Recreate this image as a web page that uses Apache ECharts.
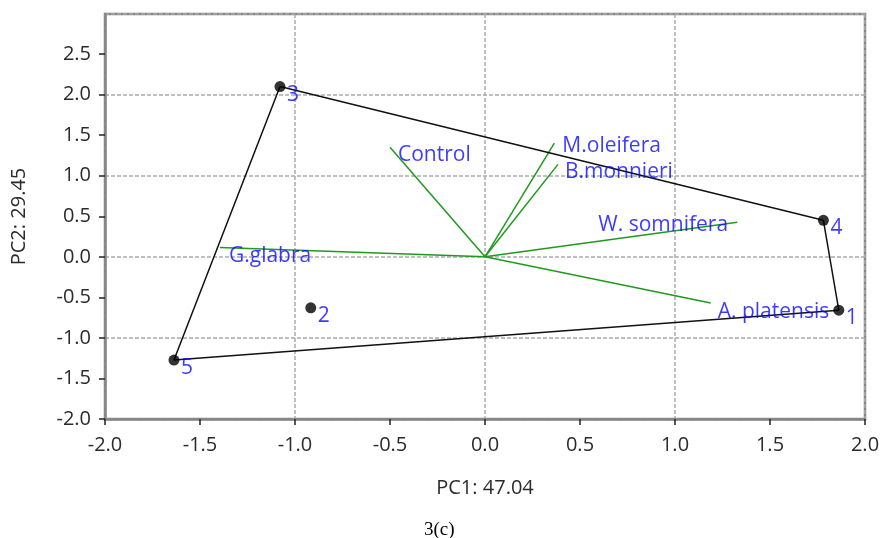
<!DOCTYPE html>
<html>
<head>
<meta charset="utf-8">
<script src="https://cdn.jsdelivr.net/npm/echarts@6/dist/echarts.min.js"></script>
<style>
  html, body { margin: 0; padding: 0; background: #ffffff; }
  #chart { width: 883px; height: 538px; }
</style>
</head>
<body>
<div id="chart"></div>
<script>
// ---- data ----
const scoreLabels = ['1', '2', '3', '4', '5'];
const scoreX = [1.862, -0.917, -1.079, 1.781, -1.637];
const scoreY = [-0.658, -0.629, 2.100, 0.451, -1.273];
const hullOrder = [2, 3, 0, 4, 2]; // 3 -> 4 -> 1 -> 5 -> 3

const loadingNames = ['Control', 'M.oleifera', 'B.monnieri', 'W. somnifera', 'A. platensis', 'G.glabra'];
const loadingX = [-0.500, 0.365, 0.384, 1.328, 1.188, -1.395];
const loadingY = [1.353, 1.403, 1.140, 0.426, -0.568, 0.115];

const xTicks = [-2.0, -1.5, -1.0, -0.5, 0.0, 0.5, 1.0, 1.5, 2.0];
const yTicks = [-2.0, -1.5, -1.0, -0.5, 0.0, 0.5, 1.0, 1.5, 2.0, 2.5];
const xTitle = 'PC1: 47.04';
const yTitle = 'PC2: 29.45';
const caption = '3(c)';

// label offsets (layout only)
const loadingLabelOffsets = [[8, 8], [8, 3], [7, 8], [-139, 3], [7, 9], [9, 9]];
const scoreLabelOffset = [7, 8];

const FONT = 'Open Sans';
const BLUE = '#0a0aff';
const GREEN = '#1f9a1f';
const TXT = '#2b2b2b';

const chart = echarts.init(document.getElementById('chart'), null, { renderer: 'canvas' });

const loadingSeries = loadingNames.map((n, i) => ({
  type: 'line',
  xAxisIndex: 0, yAxisIndex: 0,
  data: [[0, 0], [loadingX[i], loadingY[i]]],
  showSymbol: false,
  symbol: 'none',
  lineStyle: { color: GREEN, width: 1.5 },
  silent: true,
  z: 3
}));

const option = {
  animation: false,
  backgroundColor: '#ffffff',
  grid: {
    left: 105, right: 18, top: 14, bottom: 119,
    show: true, borderColor: '#858585', borderWidth: 2.5, backgroundColor: 'transparent'
  },
  xAxis: [
    {
      type: 'value', min: xTicks[0], max: xTicks[xTicks.length - 1], interval: 0.5,
      axisLine: { show: true, onZero: false, lineStyle: { color: '#858585', width: 2.5 } },
      axisTick: { show: true, length: 6, lineStyle: { color: '#222', width: 1.5 } },
      axisLabel: { fontFamily: FONT, fontSize: 20, color: TXT, margin: 16,
        formatter: v => Number(v).toFixed(1) },
      splitLine: { show: false },
      name: xTitle, nameLocation: 'middle', nameGap: 59,
      nameTextStyle: { fontFamily: FONT, fontSize: 20, color: TXT }
    },
    {
      type: 'value', min: xTicks[0], max: xTicks[xTicks.length - 1], interval: 1,
      axisLine: { show: false }, axisTick: { show: false }, axisLabel: { show: false },
      splitLine: { show: true, lineStyle: { color: '#aaaaaa', width: 1.5, type: [4, 2] } }
    }
  ],
  yAxis: [
    {
      type: 'value', min: yTicks[0], max: 2.995, interval: 0.5,
      axisLine: { show: true, onZero: false, lineStyle: { color: '#858585', width: 2.5 } },
      axisTick: { show: true, length: 6, lineStyle: { color: '#222', width: 1.5 } },
      axisLabel: { fontFamily: FONT, fontSize: 20, color: TXT, margin: 14, showMaxLabel: false,
        formatter: v => (yTicks.some(t => Math.abs(t - v) < 1e-6) ? Number(v).toFixed(1) : '') },
      splitLine: { show: false },
      name: yTitle, nameLocation: 'middle', nameGap: 76, nameRotate: 90,
      nameTextStyle: { fontFamily: FONT, fontSize: 20, color: TXT }
    },
    {
      type: 'value', min: yTicks[0], max: 2.995, interval: 1,
      axisLine: { show: false }, axisTick: { show: false }, axisLabel: { show: false },
      splitLine: { show: true, lineStyle: { color: '#aaaaaa', width: 1.5, type: [4, 2] } }
    }
  ],
  graphic: [
    {
      type: 'text', left: 424, top: 521,
      style: { text: caption, font: '19px "Liberation Serif"', fill: '#000' }
    }
  ],
  series: [
    ...loadingSeries,
    {
      type: 'scatter',
      xAxisIndex: 0, yAxisIndex: 0,
      data: loadingNames.map((n, i) => ({
        value: [loadingX[i], loadingY[i]],
        name: n,
        label: { position: loadingLabelOffsets[i] }
      })),
      symbolSize: 0,
      label: {
        show: true, formatter: p => p.name, color: BLUE, fontFamily: FONT, fontSize: 21,
        align: 'left', verticalAlign: 'middle'
      },
      silent: true,
      z: 6
    },
    {
      type: 'line',
      xAxisIndex: 0, yAxisIndex: 0,
      data: hullOrder.map(i => [scoreX[i], scoreY[i]]),
      showSymbol: false, symbol: 'none',
      lineStyle: { color: '#111', width: 1.5 },
      silent: true,
      z: 4
    },
    {
      type: 'scatter',
      xAxisIndex: 0, yAxisIndex: 0,
      data: scoreLabels.map((n, i) => ({ value: [scoreX[i], scoreY[i]], name: n })),
      symbol: 'circle', symbolSize: 11,
      itemStyle: { color: '#000' },
      label: {
        show: true, formatter: p => p.name, color: BLUE, fontFamily: FONT, fontSize: 21,
        position: [5.5 + scoreLabelOffset[0], 5.5 + scoreLabelOffset[1]], align: 'left', verticalAlign: 'middle'
      },
      silent: true,
      z: 5
    }
  ]
};

chart.setOption(option);
</script>
</body>
</html>
